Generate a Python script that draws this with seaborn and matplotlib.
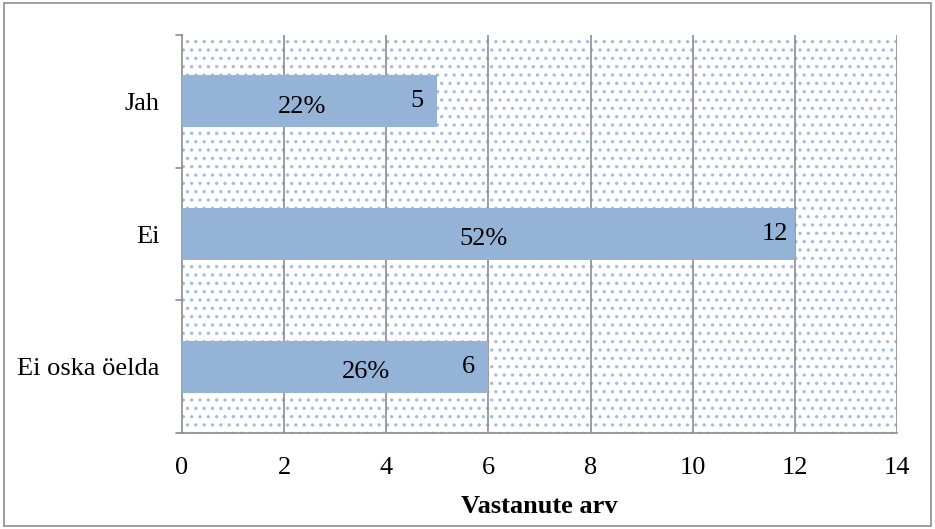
import matplotlib
matplotlib.use("Agg")
import matplotlib.pyplot as plt
import pandas as pd
import seaborn as sns
from matplotlib.patches import Rectangle

categories = ["Jah", "Ei", "Ei oska öelda"]
counts = [5, 12, 6]
percents = ["22%", "52%", "26%"]
percent_x = [2.35, 5.9, 3.6]
x_ticks = [0, 2, 4, 6, 8, 10, 12, 14]

sns.set_theme(style="white")
plt.rcParams["font.family"] = ["Liberation Serif", "DejaVu Serif"]
plt.rcParams["text.color"] = "black"
plt.rcParams["xtick.color"] = "black"
plt.rcParams["ytick.color"] = "black"
plt.rcParams["axes.labelcolor"] = "black"
plt.rcParams["hatch.color"] = "#a3bde0"
plt.rcParams["hatch.linewidth"] = 1.2

df = pd.DataFrame({"category": categories, "count": counts})

fig = plt.figure(figsize=(9.35, 5.29), dpi=100)
ax = fig.add_axes([0.1947, 0.1815, 0.7647, 0.7523])

# dotted plot area background
ax.add_patch(Rectangle((0, 0), 1, 1, transform=ax.transAxes, facecolor="white",
                       edgecolor="#a3bde0", hatch="..", linewidth=0, zorder=0))

sns.barplot(data=df, x="count", y="category", orient="h", color="#95b3d7",
            saturation=1, width=0.39, linewidth=0, ax=ax, zorder=3)

ax.set_xlim(0, 14)
ax.set_ylim(2.5, -0.5)
ax.set_xticks(x_ticks)
ax.set_xticklabels([str(t) for t in x_ticks], fontsize=19)
ax.set_yticks([0, 1, 2])
ax.set_yticklabels(categories, fontsize=19)
ax.tick_params(axis="y", length=0, pad=16)
ax.tick_params(axis="x", length=5, width=1.2, color="#8c8c8c", direction="out", pad=12)
for t in [-0.5, 0.5, 1.5, 2.5]:
    ax.plot([-0.008, 0], [t, t], transform=ax.get_yaxis_transform(), color="#8c8c8c",
            lw=1.2, clip_on=False, zorder=5)

for x in x_ticks[1:]:
    ax.axvline(x, color="#8c8c8c", lw=1.2, zorder=2)

for side in ["top", "right"]:
    ax.spines[side].set_visible(False)
for side in ["left", "bottom"]:
    ax.spines[side].set_color("#8c8c8c")
    ax.spines[side].set_linewidth(1.2)

for i, (c, p, px) in enumerate(zip(counts, percents, percent_x)):
    ax.text(px, i + 0.04, p, ha="center", va="center", fontsize=19, zorder=6)
    ax.text(c - 0.4, i, str(c), ha="center", va="center", fontsize=19, zorder=6)

ax.set_ylabel("")
ax.set_xlabel("Vastanute arv", fontsize=19, fontweight="bold", labelpad=12)

fig.add_artist(Rectangle((0.004, 0.006), 0.992, 0.988, transform=fig.transFigure,
                         fill=False, edgecolor="#8c8c8c", linewidth=1.2))

fig.savefig("out.png", dpi=100)
